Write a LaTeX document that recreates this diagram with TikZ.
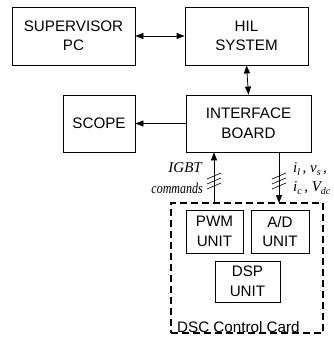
\documentclass[tikz,border=0pt]{standalone}
\usepackage{fontspec}
\setmainfont{Liberation Sans}
\newfontfamily\labelfont{Liberation Serif}
\newfontfamily\narrowlabelfont[FakeStretch=0.8]{Liberation Serif}
\usetikzlibrary{arrows.meta}
\newcommand{\sub}[1]{\raisebox{-0.25em}{\fontsize{10}{10}\selectfont #1}}
\begin{document}
\begin{tikzpicture}[x=1pt,y=-1pt,
  blk/.style={draw,line width=0.8pt,inner sep=0pt,font=\fontsize{15.2}{19.5}\selectfont,align=center},
  link/.style={line width=0.8pt,-{Triangle[length=8pt,width=6pt]}},
  biarrow/.style={line width=0.8pt,{Triangle[length=8pt,width=6pt]}-{Triangle[length=8pt,width=6pt]}},
  sig/.style={font=\labelfont\itshape\fontsize{15}{19}\selectfont,inner sep=0pt}]
\useasboundingbox (0,0) rectangle (333,338);
% blocks
\node[blk,minimum width=123pt,minimum height=58pt] (pc) at (73.5,36) {SUPERVISOR\\PC};
\node[blk,minimum width=123pt,minimum height=58pt] (hil) at (246.5,36) {HIL\\SYSTEM};
\node[blk,minimum width=125pt,minimum height=57pt] (ifb) at (248.5,123.5) {INTERFACE\\BOARD};
\node[blk,minimum width=72pt,minimum height=57pt] (scope) at (99,123.5) {SCOPE};
% DSC control card
\node[draw,line width=1.6pt,dash pattern=on 7pt off 4pt,minimum width=152pt,minimum height=130pt,inner sep=0pt] (dsc) at (247,268) {};
\node[blk,minimum width=57pt,minimum height=43pt] (pwm) at (214.5,231.5) {PWM\\UNIT};
\node[blk,minimum width=58pt,minimum height=43pt] (ad) at (280,231.5) {A/D\\UNIT};
\node[blk,minimum width=65pt,minimum height=41pt] (dsp) at (247.5,281.5) {DSP\\UNIT};
\node[anchor=south west,inner sep=0pt,font=\fontsize{15.2}{17}\selectfont] (card) at (177,333) {DSC Control Card};
% connections
\draw[biarrow] (pc.east) -- (hil.west);
\draw[biarrow] (hil.south) -- (ifb.north);
\draw[link] (ifb.west) -- (scope.east);
\coordinate (pwmtop) at (214,203);
\coordinate (adtop) at (279,203);
\draw[link] (pwmtop) -- (pwmtop |- ifb.south);
\draw[link] (adtop |- ifb.south) -- (adtop);
% bus marks
\foreach \bx in {214,279}{
  \foreach \k in {-5,0,5}
    \draw[line width=0.6pt] (\bx-7,181+\k+3) -- (\bx+7,181+\k-3);
}
% signal labels
\node[sig,anchor=east] (igbt) at (202,168) {IGBT};
\node[sig,anchor=east,font=\narrowlabelfont\itshape\fontsize{15}{19}\selectfont] (cmd) at (203,188) {commands};
\node[sig,anchor=west] (meas1) at (293,169) {i\sub{l}\,, v\sub{s}\,,};
\node[sig,anchor=west] (meas2) at (293,188) {i\sub{c}\,, V\sub{dc}};
\end{tikzpicture}
\end{document}
